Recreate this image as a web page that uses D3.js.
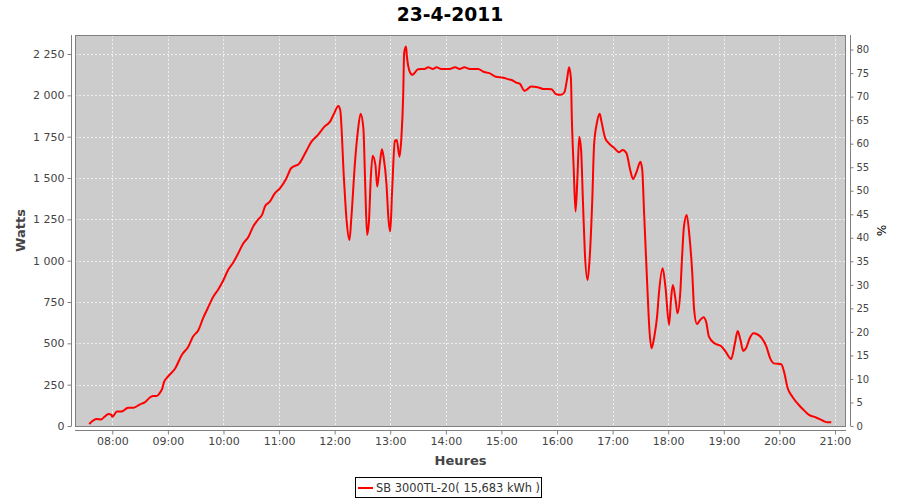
<!DOCTYPE html>
<html>
<head>
<meta charset="utf-8">
<script src="https://cdn.jsdelivr.net/npm/d3@7"></script>
<style>
  html, body { margin: 0; padding: 0; background: #ffffff; }
  svg { display: block; font-family: "DejaVu Sans", sans-serif; }
</style>
</head>
<body>
<svg id="chart" width="900" height="500"></svg>
<script>
// ---- data ----
const chartTitle = "23-4-2011";
const seriesName = "SB 3000TL-20( 15,683 kWh )";
const times = ["07:35","07:40","07:43","07:48","07:51","07:56","07:59","08:00","08:05","08:10",
"08:14","08:17","08:23","08:30","08:35","08:41","08:44","08:48","08:51","08:54",
"08:56","09:00","09:08","09:15","09:22","09:27","09:33","09:38","09:43","09:49",
"09:54","10:00","10:05","10:10","10:16","10:21","10:27","10:32","10:37","10:42",
"10:45","10:50","10:55","11:01","11:08","11:13","11:22","11:30","11:35","11:42",
"11:49","11:55","11:59","12:04","12:06","12:10","12:13","12:16","12:18","12:22",
"12:25","12:28","12:31","12:33","12:35","12:37","12:39","12:41","12:44","12:46",
"12:49","12:51","12:53","12:56","12:58","13:00","13:02","13:05","13:07","13:10",
"13:12","13:14","13:15","13:17","13:18","13:21","13:24","13:26","13:30","13:37",
"13:41","13:46","13:50","13:55","14:04","14:10","14:15","14:20","14:26","14:35",
"14:40","14:47","14:54","15:02","15:07","15:11","15:16","15:20","15:25","15:27",
"15:32","15:39","15:45","15:54","15:59","16:04","16:08","16:11","16:13","16:15",
"16:16","16:18","16:20","16:22","16:24","16:26","16:28","16:30","16:33","16:35",
"16:38","16:40","16:43","16:46","16:48","16:52","16:56","17:02","17:07","17:11",
"17:15","17:19","17:22","17:26","17:30","17:32","17:34","17:37","17:40","17:42",
"17:45","17:48","17:50","17:54","17:57","18:01","18:03","18:05","18:08","18:10",
"18:13","18:15","18:17","18:20","18:23","18:26","18:28","18:31","18:34","18:38",
"18:41","18:44","18:50","18:57","19:02","19:08","19:12","19:15","19:18","19:21",
"19:24","19:28","19:32","19:36","19:41","19:46","19:50","19:54","20:02","20:05",
"20:09","20:14","20:21","20:28","20:32","20:39","20:47","20:52","20:56"];
const watts = [12,36,42,40,53,73,67,56,87,87,
101,111,111,131,143,174,182,182,198,228,
268,298,349,430,480,540,581,652,712,782,
823,883,944,984,1045,1101,1145,1206,1246,1281,
1331,1357,1404,1438,1499,1559,1589,1670,1720,1761,
1811,1841,1886,1936,1912,1499,1236,1125,1257,1599,
1780,1888,1801,1458,1156,1236,1499,1635,1579,1448,
1599,1674,1620,1458,1257,1176,1418,1724,1730,1629,
1741,2003,2255,2295,2234,2144,2124,2134,2158,2160,
2170,2160,2170,2160,2160,2170,2160,2170,2160,2160,
2144,2134,2113,2107,2098,2093,2077,2069,2027,2033,
2053,2049,2039,2037,2007,2003,2019,2104,2170,2104,
1862,1559,1297,1499,1750,1670,1357,1055,883,994,
1357,1700,1831,1888,1841,1741,1710,1680,1656,1670,
1650,1549,1494,1539,1599,1549,1287,903,561,470,
540,661,803,954,843,611,762,853,762,682,
803,1024,1206,1277,1145,924,702,617,637,658,
629,540,500,484,450,405,500,575,520,454,
470,531,561,555,531,480,410,379,373,329,
228,177,127,87,67,53,32,22,22];
const wattTicks = [0,250,500,750,1000,1250,1500,1750,2000,2250];
const pctTicks = [0,5,10,15,20,25,30,35,40,45,50,55,60,65,70,75,80];
const hourTicks = ["08:00","09:00","10:00","11:00","12:00","13:00","14:00","15:00","16:00","17:00","18:00","19:00","20:00","21:00"];
const xDomain = ["07:19:45","21:11:55"];
const wattMax = 2365;
const pctMax = 83.1;
const xTitle = "Heures", yTitle = "Watts", y2Title = "%";

// ---- setup ----
const parse = d3.timeParse("%Y-%m-%d %H:%M");
const parseS = d3.timeParse("%Y-%m-%d %H:%M:%S");
const day = "2011-04-23 ";
const data = times.map((t, i) => ({ t: parse(day + t), w: watts[i] }));

const plot = { left: 75, right: 846, top: 35, bottom: 426 };
const svg = d3.select("#chart");

const x = d3.scaleTime()
  .domain(xDomain.map(s => parseS(day + s)))
  .range([plot.left, plot.right]);
const y = d3.scaleLinear().domain([0, wattMax]).range([plot.bottom, plot.top]);
const y2 = d3.scaleLinear().domain([0, pctMax]).range([plot.bottom, plot.top]);

const loc = d3.formatLocale({ decimal: ",", thousands: "\u00a0", grouping: [3], currency: ["", " €"] });
const fmt = loc.format(",d");

// Title
svg.append("text")
  .attr("x", 450).attr("y", 21)
  .attr("text-anchor", "middle")
  .attr("font-weight", "bold").attr("font-size", "18.7px")
  .attr("fill", "#000")
  .text(chartTitle);

// Plot background
svg.append("rect")
  .attr("x", plot.left).attr("y", plot.top)
  .attr("width", plot.right - plot.left).attr("height", plot.bottom - plot.top)
  .attr("fill", "#cccccc");

// Gridlines
const hourDates = hourTicks.map(h => parse(day + h));
svg.append("g").selectAll("line").data(hourDates).join("line")
  .attr("x1", d => Math.round(x(d)) + 0.5).attr("x2", d => Math.round(x(d)) + 0.5)
  .attr("y1", plot.top).attr("y2", plot.bottom)
  .attr("stroke", "#ffffff").attr("stroke-width", 1).attr("stroke-dasharray", "2,2").attr("opacity", 0.7);
svg.append("g").selectAll("line").data(wattTicks).join("line")
  .attr("x1", plot.left).attr("x2", plot.right)
  .attr("y1", d => Math.round(y(d)) + 0.5).attr("y2", d => Math.round(y(d)) + 0.5)
  .attr("stroke", "#ffffff").attr("stroke-width", 1).attr("stroke-dasharray", "2,2").attr("opacity", 0.7);

// Line
const line = d3.line().x(d => x(d.t)).y(d => y(d.w)).curve(d3.curveMonotoneX);
svg.append("path").datum(data)
  .attr("d", line)
  .attr("fill", "none").attr("stroke", "#ff0000").attr("stroke-width", 2)
  .attr("stroke-linejoin", "round");

// Plot outline
svg.append("rect")
  .attr("x", plot.left + 0.5).attr("y", plot.top + 0.5)
  .attr("width", plot.right - plot.left - 1).attr("height", plot.bottom - plot.top)
  .attr("fill", "none").attr("stroke", "#808080").attr("stroke-width", 1);

// Axes
const tickColor = "#444444";
const xAxis = d3.axisBottom(x).tickValues(hourDates).tickFormat(d3.timeFormat("%H:%M")).tickSizeOuter(0).tickSize(4).tickPadding(3);
const gx = svg.append("g").attr("transform", `translate(0,${plot.bottom + 4.5})`).call(xAxis);
const yAxis = d3.axisLeft(y).tickValues(wattTicks).tickFormat(fmt).tickSizeOuter(0).tickSize(4).tickPadding(3);
const gy = svg.append("g").attr("transform", `translate(${plot.left - 3.5},0)`).call(yAxis);
const y2Axis = d3.axisRight(y2).tickValues(pctTicks).tickSizeOuter(0).tickSize(3).tickPadding(3);
const gy2 = svg.append("g").attr("transform", `translate(${plot.right + 4.5},0)`).call(y2Axis);

[gx, gy, gy2].forEach(g => {
  g.select(".domain").attr("stroke", "#808080");
  g.selectAll(".tick line").attr("stroke", "#808080");
  g.selectAll(".tick text").attr("fill", tickColor).attr("font-size", "11px").attr("font-family", "DejaVu Sans, sans-serif");
});
gx.select(".domain").attr("d", `M${plot.left},0H${plot.right}`);
gy.select(".domain").attr("d", `M0,${plot.top}V${plot.bottom}`);
gy2.select(".domain").attr("d", `M0,${plot.top}V${plot.bottom}`);
gy2.selectAll(".tick text").attr("font-size", "10px");

// Axis titles
svg.append("text")
  .attr("x", (plot.left + plot.right) / 2).attr("y", 465)
  .attr("text-anchor", "middle").attr("font-weight", "bold").attr("font-size", "13px")
  .attr("fill", tickColor).text(xTitle);
svg.append("text")
  .attr("transform", `translate(25,${(plot.top + plot.bottom) / 2}) rotate(-90)`)
  .attr("text-anchor", "middle").attr("font-weight", "bold").attr("font-size", "13px")
  .attr("fill", tickColor).text(yTitle);
svg.append("text")
  .attr("transform", `translate(877,${(plot.top + plot.bottom) / 2}) rotate(90)`)
  .attr("text-anchor", "middle").attr("font-size", "12px")
  .attr("fill", "#000").text(y2Title);

// Legend
const lg = svg.append("g");
lg.append("rect").attr("x", 355.5).attr("y", 477.5).attr("width", 186).attr("height", 20)
  .attr("fill", "#fff").attr("stroke", "#000").attr("stroke-width", 1);
lg.append("line").attr("x1", 358).attr("x2", 373).attr("y1", 488).attr("y2", 488)
  .attr("stroke", "#ff0000").attr("stroke-width", 2);
lg.append("text").attr("x", 376).attr("y", 492)
  .attr("font-size", "11.4px").attr("fill", "#333").text(seriesName);
</script>
</body>
</html>
